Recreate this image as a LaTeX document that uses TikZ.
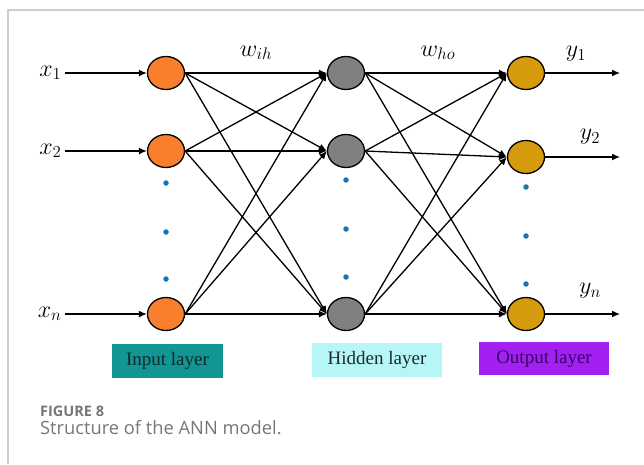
\RequirePackage{fix-cm}
\documentclass[tikz,border=0pt]{standalone}
\usepackage{fontspec}
\usepackage{amsmath}
\setmainfont{Liberation Serif}
\newfontfamily\capfont{Open Sans}
\usetikzlibrary{positioning}
\usetikzlibrary{shapes.geometric}
\usetikzlibrary{arrows.meta}

\definecolor{inorange}{RGB}{249,127,46}
\definecolor{hidgray}{RGB}{128,128,128}
\definecolor{outgold}{RGB}{214,155,12}
\definecolor{dotblue}{RGB}{22,118,178}
\definecolor{inbox}{RGB}{18,150,148}
\definecolor{hidbox}{RGB}{182,246,246}
\definecolor{outbox}{RGB}{162,32,240}
\definecolor{capgray}{RGB}{118,118,118}
\definecolor{framegray}{RGB}{206,206,206}

\tikzset{
 neuron/.style={ellipse,draw=black,line width=1.3pt,minimum width=37pt,minimum height=33pt,inner sep=0pt},
 link/.style={line width=1.3pt,-{Latex[length=8pt,width=7pt]}},
 layerbox/.style={minimum height=34pt,inner sep=0pt,font=\fontsize{19}{22}\selectfont},
 vdot/.style={circle,fill=dotblue,inner sep=0pt,minimum size=5.5pt},
 lbl/.style={font=\fontsize{24}{28}\selectfont}
}

\begin{document}
\begin{tikzpicture}[x=1pt,y=-1pt]
 \useasboundingbox (0,0) rectangle (644,464);
 \draw [framegray,line width=1.5pt](8,464)--(8,10)--(644,10);

 % neurons
 \node[neuron,fill=inorange] (i1) at (166,73) {};
 \node[neuron,fill=inorange] (i2) at (166,151) {};
 \node[neuron,fill=inorange] (in) at (166,314) {};
 \node[neuron,fill=hidgray] (h1) at (346,73) {};
 \node[neuron,fill=hidgray] (h2) at (346,151) {};
 \node[neuron,fill=hidgray] (hn) at (346,314) {};
 \node[neuron,fill=outgold] (o1) at (526,73) {};
 \node[neuron,fill=outgold] (o2) at (526,157) {};
 \node[neuron,fill=outgold] (on) at (526,314) {};

 % dots
 \node[vdot] (di1) at (166,183) {};
 \node[vdot] (di2) at (166,232) {};
 \node[vdot] (di3) at (166,279) {};
 \node[vdot] (dh1) at (346,180) {};
 \node[vdot] (dh2) at (346,229) {};
 \node[vdot] (dh3) at (346,277) {};
 \node[vdot] (do1) at (526,187) {};
 \node[vdot] (do2) at (526,236) {};
 \node[vdot] (do3) at (526,284) {};

 % inputs
 \node[lbl,anchor=east] (x1) at (65,73) {$x_1$};
 \node[lbl,anchor=east] (x2) at (65,151) {$x_2$};
 \node[lbl,anchor=east] (xn) at (65,314) {$x_n$};
 \draw[link] (x1) -- (i1);
 \draw[link] (x2) -- (i2);
 \draw[link] (xn) -- (in);

 % input -> hidden
 \draw[link] (i1.east) -- (h1.west);
 \draw[link] (i1.east) -- (h2.west);
 \draw[link] (i1.east) -- (hn.west);
 \draw[link] (i2.east) -- (h1.west);
 \draw[link] (i2.east) -- (h2.west);
 \draw[link] (i2.east) -- (hn.west);
 \draw[link] (in.east) -- (h1.west);
 \draw[link] (in.east) -- (h2.west);
 \draw[link] (in.east) -- (hn.west);

 % hidden -> output
 \draw[link] (h1.east) -- (o1.west);
 \draw[link] (h1.east) -- (o2.west);
 \draw[link] (h1.east) -- (on.west);
 \draw[link] (h2.east) -- (o1.west);
 \draw[link] (h2.east) -- (o2.west);
 \draw[link] (h2.east) -- (on.west);
 \draw[link] (hn.east) -- (o1.west);
 \draw[link] (hn.east) -- (o2.west);
 \draw[link] (hn.east) -- (on.west);

 % outputs
 \coordinate (e1) at (620,73);
 \coordinate (e2) at (620,157);
 \coordinate (en) at (620,314);
 \draw[link] (o1) -- (e1);
 \draw[link] (o2) -- (e2);
 \draw[link] (on) -- (en);
 \node[lbl] (y1) at (576,54) {$y_1$};
 \node[lbl] (y2) at (590,137) {$y_2$};
 \node[lbl] (yn) at (590,291) {$y_n$};

 \node[lbl] (wih) at (256,53) {$w_{ih}$};
 \node[lbl] (who) at (438,53) {$w_{ho}$};

 % layer boxes
 \node[layerbox,fill=inbox,minimum width=111pt,text={rgb,255:red,16;green,40;blue,40}] (inlay) at (167.5,361) {Input layer};
 \node[layerbox,fill=hidbox,minimum width=130pt,text={rgb,255:red,30;green,40;blue,40}] (hidlay) at (377,360) {Hidden layer};
 \node[layerbox,fill=outbox,minimum width=130pt,minimum height=33pt,text={rgb,255:red,60;green,0;blue,110}] (outlay) at (544,358.5) {Output layer};

 % caption
 \node[anchor=base west,inner sep=0pt,text=capgray,font=\capfont\fontsize{14.5}{17}\selectfont\bfseries] (fig) at (40,416) {FIGURE 8};
 \node[anchor=base west,inner sep=0pt,text=capgray,font=\capfont\fontsize{18.3}{22}\selectfont] (cap) at (40,434) {Structure of the ANN model.};
\end{tikzpicture}
\end{document}
